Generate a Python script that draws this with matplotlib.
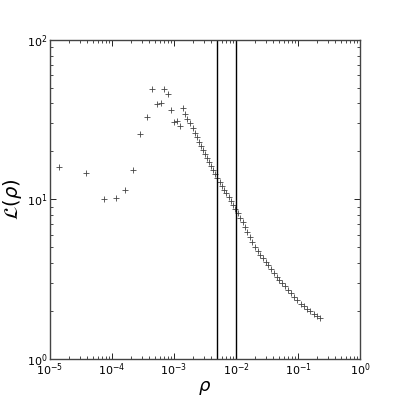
import numpy as np
import matplotlib
matplotlib.use("Agg")
import matplotlib.pyplot as plt

# binned points (rho, L(rho))
rho = [1.38e-5, 3.81e-5, 7.5e-5, 1.16e-4, 1.64e-4, 2.21e-4, 2.86e-4, 3.62e-4,
       4.47e-4, 5.3e-4, 6.17e-4, 6.98e-4, 8.0e-4, 8.96e-4, 1.0e-3, 1.12e-3,
       1.25e-3, 1.38e-3, 1.52e-3, 1.64e-3, 1.81e-3, 2.0e-3, 2.18e-3, 2.32e-3,
       2.50e-3, 2.70e-3, 2.91e-3, 3.14e-3, 3.39e-3, 3.66e-3, 3.96e-3, 4.29e-3,
       4.63e-3, 5.02e-3, 5.44e-3, 5.90e-3, 6.41e-3, 6.97e-3, 7.57e-3, 8.24e-3,
       8.97e-3, 9.77e-3, 1.067e-2, 1.164e-2, 1.274e-2, 1.393e-2, 1.528e-2,
       1.675e-2, 1.841e-2, 2.023e-2, 2.228e-2, 2.455e-2, 2.71e-2, 2.99e-2,
       3.31e-2, 3.66e-2, 4.06e-2, 4.51e-2, 5.01e-2, 5.58e-2, 6.22e-2, 6.95e-2,
       7.78e-2, 8.71e-2, 9.77e-2, 0.110, 0.124, 0.140, 0.158, 0.180, 0.205,
       0.226]
L = [15.9, 14.7, 10.1, 10.2, 11.4, 15.2, 25.7, 32.7,
     49.0, 39.5, 40.0, 49.0, 46.0, 36.2, 30.4, 30.9,
     28.8, 37.3, 34.2, 31.9, 30.0, 28.1, 26.2, 24.5,
     22.8, 21.5, 20.4, 19.2, 18.2, 17.1, 16.1, 15.2,
     14.4, 13.6, 12.9, 12.2, 11.5, 10.9, 10.35, 9.79,
     9.27, 8.75, 8.18, 7.67, 7.16, 6.68, 6.24,
     5.82, 5.42, 5.04, 4.72, 4.49, 4.27, 4.05,
     3.84, 3.65, 3.45, 3.27, 3.12, 2.98, 2.84, 2.70,
     2.57, 2.44, 2.32, 2.21, 2.13, 2.06, 1.99, 1.91, 1.84,
     1.79]
vlines = [5e-3, 1e-2]

fig = plt.figure(figsize=(3.99, 3.99), dpi=100)
ax = fig.add_axes([0.1253, 0.1015, 0.777, 0.798])

ax.plot(rho, L, '+', color='#444444', markersize=5, markeredgewidth=0.6)
for v in vlines:
    ax.axvline(v, color='black', lw=1.0)

ax.set_xscale('log')
ax.set_yscale('log')
ax.set_xlim(1e-5, 1)
ax.set_ylim(1, 100)

ax.tick_params(which='both', direction='in', top=True, right=True, labelsize=8, pad=2)
ax.tick_params(which='major', length=4, width=0.6)
ax.tick_params(which='minor', length=2, width=0.5)
for s in ax.spines.values():
    s.set_linewidth(1.0)
    s.set_color('#444444')

ax.set_xlabel(r'$\rho$', fontsize=13, labelpad=1)
ax.set_ylabel(r'$\mathcal{L}(\rho)$', fontsize=14, labelpad=2)

fig.savefig('out.png', dpi=100)
